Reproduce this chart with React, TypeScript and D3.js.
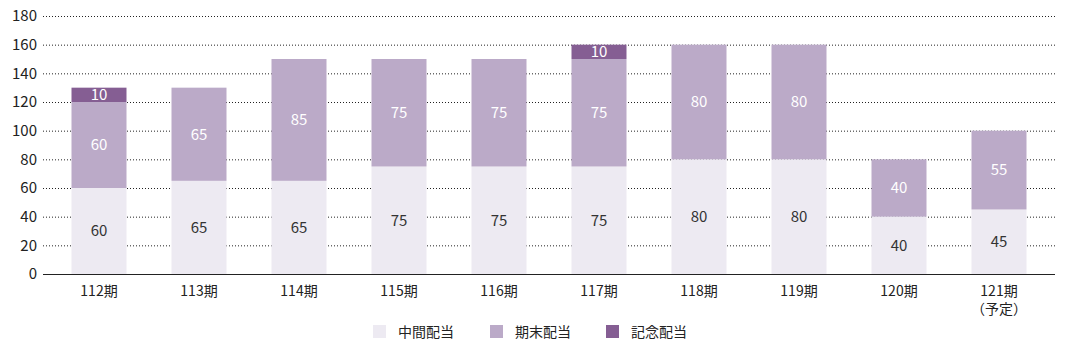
import React, { useEffect, useRef } from 'react';
import * as d3 from 'd3';

const periods = ['112期', '113期', '114期', '115期', '116期', '117期', '118期', '119期', '120期', '121期'];
const interim = [60, 65, 65, 75, 75, 75, 80, 80, 40, 45];
const yearEnd = [60, 65, 85, 75, 75, 75, 80, 80, 40, 55];
const commemorative = [10, 0, 0, 0, 0, 10, 0, 0, 0, 0];
const seriesNames = ['中間配当', '期末配当', '記念配当'];
const yTicks = [0, 20, 40, 60, 80, 100, 120, 140, 160, 180];

const colors = ['#edeaf2', '#bbaac8', '#855e93'];
const labelColors = ['#333333', '#ffffff', '#ffffff'];
const font = '"Noto Sans CJK JP", "Noto Sans", sans-serif';

const App = () => {
  const svgRef = useRef<SVGSVGElement>(null);

  useEffect(() => {
    const svg = d3.select(svgRef.current);
    svg.selectAll('*').remove();

    const width = 1066;
    const height = 353;

    const x = d3.scaleBand().domain(periods).range([49, 1049]).paddingInner(0.45).paddingOuter(0.225);
    const y = d3.scaleLinear().domain([0, 180]).range([274, 16]);

    // gridlines
    svg.append('g')
      .selectAll('line')
      .data(yTicks.filter(t => t > 0))
      .enter().append('line')
      .attr('x1', 43).attr('x2', 1056)
      .attr('y1', d => y(d) + 0.5).attr('y2', d => y(d) + 0.5)
      .attr('stroke', '#222')
      .attr('stroke-width', 1)
      .attr('stroke-dasharray', '1,2');

    // y tick labels
    svg.append('g')
      .selectAll('text')
      .data(yTicks)
      .enter().append('text')
      .attr('x', 37)
      .attr('y', d => y(d))
      .attr('dy', '0.36em')
      .attr('text-anchor', 'end')
      .attr('font-family', font)
      .attr('font-size', 15)
      .attr('fill', '#222')
      .text(d => d);

    const rows = periods.map((p, i) => ({ period: p, s0: interim[i], s1: yearEnd[i], s2: commemorative[i] }));
    const stack = d3.stack<any>().keys(['s0', 's1', 's2']);
    const layers = stack(rows);

    layers.forEach((layer, li) => {
      const g = svg.append('g');
      layer.forEach((d, i) => {
        const v = d[1] - d[0];
        if (v <= 0) return;
        g.append('rect')
          .attr('x', x(periods[i])!)
          .attr('width', x.bandwidth())
          .attr('y', y(d[1]))
          .attr('height', y(d[0]) - y(d[1]))
          .attr('fill', colors[li]);
        g.append('text')
          .attr('x', x(periods[i])! + x.bandwidth() / 2)
          .attr('y', y((d[0] + d[1]) / 2))
          .attr('dy', '0.36em')
          .attr('text-anchor', 'middle')
          .attr('font-family', font)
          .attr('font-size', 15)
          .attr('fill', labelColors[li])
          .text(v);
      });
    });

    // baseline
    svg.append('line')
      .attr('x1', 43).attr('x2', 1055)
      .attr('y1', y(0) + 0.5).attr('y2', y(0) + 0.5)
      .attr('stroke', '#222')
      .attr('stroke-width', 1.2);

    // x labels
    const xl = svg.append('g');
    periods.forEach((p, i) => {
      const cx = x(p)! + x.bandwidth() / 2;
      xl.append('text')
        .attr('x', cx).attr('y', 296)
        .attr('text-anchor', 'middle')
        .attr('font-family', font)
        .attr('font-size', 14)
        .attr('fill', '#222')
        .text(p);
      if (i === periods.length - 1) {
        xl.append('text')
          .attr('x', cx).attr('y', 314)
          .attr('text-anchor', 'middle')
          .attr('font-family', font)
          .attr('font-size', 14)
          .attr('fill', '#222')
          .text('（予定）');
      }
    });

    // legend
    const legendX = [373, 490, 606];
    const legend = svg.append('g');
    seriesNames.forEach((name, i) => {
      legend.append('rect')
        .attr('x', legendX[i]).attr('y', 325)
        .attr('width', 13).attr('height', 13)
        .attr('fill', colors[i]);
      legend.append('text')
        .attr('x', legendX[i] + 25).attr('y', 331.5)
        .attr('dy', '0.36em')
        .attr('font-family', font)
        .attr('font-size', 14)
        .attr('fill', '#222')
        .text(name);
    });

    svg.attr('width', width).attr('height', height);
  }, []);

  return <svg ref={svgRef} style={{ position: 'absolute', left: 0, top: 0 }}></svg>;
};

export default App;
